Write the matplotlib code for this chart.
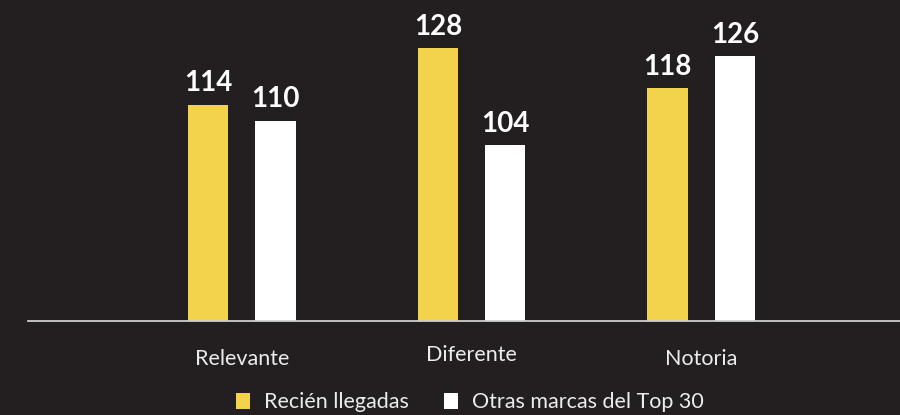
import matplotlib
matplotlib.use("Agg")
import matplotlib.pyplot as plt
import numpy as np
from matplotlib.patches import Patch
from matplotlib.transforms import ScaledTranslation

# indices por atributo de marca
categorias = ["Relevante", "Diferente", "Notoria"]
recien_llegadas = [114, 128, 118]
otras_top30 = [110, 104, 126]
series = ["Recién llegadas", "Otras marcas del Top 30"]

fondo = "#231f20"
amarillo = "#f2d34b"
blanco = "#ffffff"

plt.rcParams['font.family'] = ['Lato', 'DejaVu Sans']

fig = plt.figure(figsize=(9, 4.15), dpi=100, facecolor=fondo)
ax = fig.add_axes([0.0311, 0.2265, 0.9689, 0.7735])
ax.set_facecolor(fondo)

x = np.arange(len(categorias))
ancho = 0.176
b1 = ax.bar(x - 0.147, recien_llegadas, ancho, color=amarillo, bottom=0)
b2 = ax.bar(x + 0.146, otras_top30, ancho, color=blanco)

for barras in (b1, b2):
    for b in barras:
        ax.annotate(str(int(b.get_height())), (b.get_x() + b.get_width() / 2, b.get_height()),
                    xytext=(0, 6), textcoords="offset points", ha="center", va="bottom",
                    color="white", fontsize=20, fontweight="bold")

ax.set_ylim(60.4, 139.9)
ax.set_xlim(-0.931, 2.864)

for s in ["top", "right", "left"]:
    ax.spines[s].set_visible(False)
ax.spines["bottom"].set_color("#cfcfcf")
ax.spines["bottom"].set_linewidth(1.3)
ax.set_yticks([])
ax.set_xticks(x)
ax.set_xticklabels(categorias, color="#ececec", fontsize=15.5)
ax.tick_params(axis="x", length=0, pad=20)
# "Diferente" va un poco más arriba
lbl = ax.get_xticklabels()[1]
lbl.set_transform(lbl.get_transform() + ScaledTranslation(0, 3 / 72, fig.dpi_scale_trans))

handles = [Patch(facecolor=amarillo, edgecolor="none"), Patch(facecolor=blanco, edgecolor="none")]
leg = fig.legend(handles, series, loc="lower center", bbox_to_anchor=(0.522, -0.04), ncol=2,
                 frameon=False, fontsize=15.5, handlelength=0.65, handleheight=0.75,
                 handletextpad=0.65, columnspacing=1.6)
for t in leg.get_texts():
    t.set_color("#ececec")

fig.savefig("out.png", dpi=100, facecolor=fondo)
